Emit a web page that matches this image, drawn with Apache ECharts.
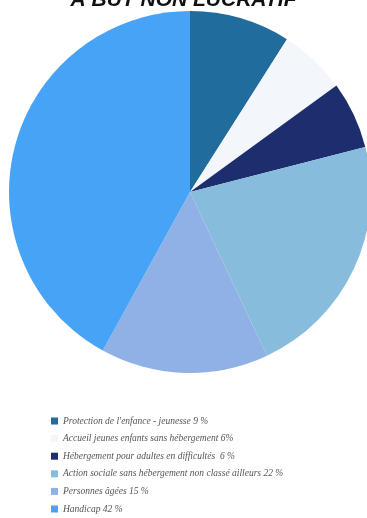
<!DOCTYPE html>
<html><head><meta charset="utf-8">
<script src="https://cdn.jsdelivr.net/npm/echarts@6/dist/echarts.min.js"></script>
<style>html,body{margin:0;padding:0;background:#fff}#c{width:367px;height:518px}</style>
</head><body><div id="c"></div>
<script>
const categories = [
  "Protection de l'enfance - jeunesse",
  "Accueil jeunes enfants sans hébergement",
  "Hébergement pour adultes en difficultés",
  "Action sociale sans hébergement non classé ailleurs",
  "Personnes âgées",
  "Handicap"
];
const values = [9, 6, 6, 22, 15, 42];
const legendSuffix = [" 9 %", " 6%", "  6 %", " 22 %", " 15 %", " 42 %"];
const colors = ["#1f6c9d", "#f3f6fb", "#1d2e6e", "#87bcdc", "#8fb1e6", "#47a3f6"];

const chart = echarts.init(document.getElementById('c'), null, {renderer: 'canvas'});
chart.setOption({
  animation: false,
  title: {
    text: "A BUT NON LUCRATIF",
    left: 'center',
    top: -15,
    textStyle: {fontFamily: 'Liberation Sans', fontWeight: 'bold', fontStyle: 'italic', fontSize: 21, color: '#111'}
  },
  legend: {
    orient: 'vertical',
    left: 46,
    top: 411,
    height: 110,
    itemWidth: 7,
    itemHeight: 7,
    itemGap: 7.6,
    icon: 'rect',
    formatter: function (name) { return name + legendSuffix[categories.indexOf(name)]; },
    textStyle: {fontFamily: 'Liberation Serif', fontStyle: 'italic', fontSize: 9.5, lineHeight: 10, color: '#555'}
  },
  series: [{
    type: 'pie',
    center: [190, 192],
    radius: 181,
    startAngle: 90,
    clockwise: true,
    label: {show: false},
    labelLine: {show: false},
    emphasis: {disabled: true},
    itemStyle: {borderWidth: 0},
    data: categories.map((n, i) => ({name: n, value: values[i], itemStyle: {color: colors[i]}}))
  }]
});
</script></body></html>
